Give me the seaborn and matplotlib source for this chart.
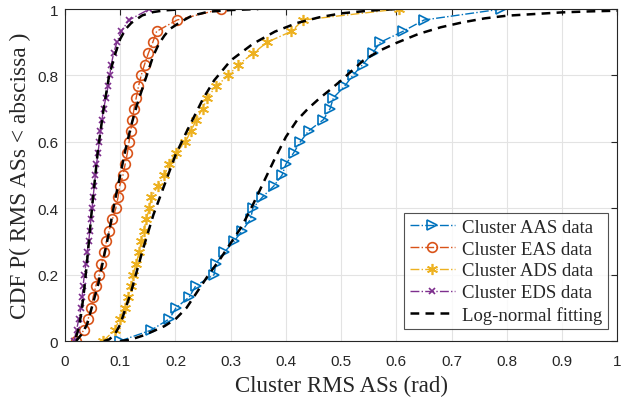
import numpy as np
import pandas as pd
import matplotlib
matplotlib.use("Agg")
import matplotlib.pyplot as plt
import seaborn as sns

# CDF levels of the measured points (31 levels, 0 .. 1)
cdf_levels = [0.0, 0.033, 0.067, 0.1, 0.133, 0.167, 0.2, 0.233, 0.267, 0.3, 0.333,
              0.367, 0.4, 0.433, 0.467, 0.5, 0.533, 0.567, 0.6, 0.633, 0.667,
              0.7, 0.733, 0.767, 0.8, 0.833, 0.867, 0.9, 0.933, 0.967, 1.0]

aas_x = [0.099, 0.156, 0.189, 0.201, 0.225, 0.237, 0.270, 0.273, 0.288, 0.306, 0.321,
         0.336, 0.340, 0.357, 0.378, 0.393, 0.400, 0.414, 0.426, 0.441, 0.468,
         0.480, 0.486, 0.506, 0.521, 0.539, 0.557, 0.571, 0.612, 0.650, 0.790]
eas_x = [0.020, 0.034, 0.042, 0.048, 0.051, 0.056, 0.062, 0.066, 0.071, 0.075, 0.080,
         0.086, 0.092, 0.096, 0.099, 0.105, 0.109, 0.113, 0.116, 0.119, 0.122,
         0.125, 0.129, 0.133, 0.138, 0.144, 0.151, 0.159, 0.166, 0.203, 0.283]
ads_x = [0.069, 0.090, 0.099, 0.108, 0.114, 0.120, 0.123, 0.129, 0.134, 0.138, 0.143,
         0.147, 0.153, 0.156, 0.168, 0.180, 0.189, 0.201, 0.218, 0.228, 0.238,
         0.249, 0.258, 0.273, 0.296, 0.314, 0.341, 0.366, 0.410, 0.431, 0.604]
eds_x = [0.016, 0.021, 0.025, 0.029, 0.031, 0.033, 0.035, 0.038, 0.040, 0.043, 0.045,
         0.047, 0.049, 0.051, 0.053, 0.055, 0.057, 0.060, 0.062, 0.064, 0.067,
         0.070, 0.074, 0.078, 0.081, 0.084, 0.088, 0.094, 0.102, 0.116, 0.153]

# log-normal fitted curves
fit_aas_x = [0.10, 0.12, 0.14, 0.16, 0.18, 0.20, 0.22, 0.24, 0.26, 0.28, 0.30, 0.32, 0.34,
             0.36, 0.38, 0.40, 0.42, 0.44, 0.46, 0.48, 0.50, 0.52, 0.54, 0.57, 0.60,
             0.64, 0.68, 0.72, 0.76, 0.80, 0.85, 0.90, 0.95, 1.0]
fit_aas_y = [0.0, 0.005, 0.016, 0.03, 0.045, 0.066, 0.10, 0.15, 0.20, 0.245, 0.295, 0.345, 0.41,
             0.48, 0.55, 0.615, 0.665, 0.70, 0.73, 0.757, 0.785, 0.815, 0.845, 0.875, 0.898,
             0.925, 0.945, 0.96, 0.972, 0.98, 0.985, 0.99, 0.993, 0.995]
fit_eas_x = [0.02, 0.03, 0.04, 0.05, 0.06, 0.07, 0.08, 0.09, 0.10, 0.11, 0.12, 0.13, 0.14,
             0.15, 0.16, 0.17, 0.18, 0.19, 0.21, 0.23, 0.26, 0.30, 0.35]
fit_eas_y = [0.0, 0.02, 0.05, 0.11, 0.17, 0.25, 0.33, 0.42, 0.50, 0.58, 0.65, 0.71, 0.76,
             0.81, 0.86, 0.895, 0.92, 0.94, 0.962, 0.98, 0.992, 0.997, 1.0]
fit_ads_x = [0.07, 0.08, 0.09, 0.10, 0.11, 0.12, 0.13, 0.14, 0.15, 0.16, 0.17, 0.18, 0.19,
             0.20, 0.22, 0.25, 0.27, 0.30, 0.34, 0.38, 0.42, 0.46, 0.50, 0.55, 0.60]
fit_ads_y = [0.0, 0.005, 0.02, 0.05, 0.10, 0.15, 0.21, 0.27, 0.325, 0.38, 0.425, 0.47, 0.515,
             0.56, 0.63, 0.73, 0.785, 0.845, 0.895, 0.932, 0.958, 0.975, 0.987, 0.995, 1.0]
fit_eds_x = [0.02, 0.025, 0.03, 0.035, 0.04, 0.045, 0.05, 0.055, 0.06, 0.07, 0.08, 0.09,
             0.10, 0.11, 0.12, 0.14, 0.16, 0.18, 0.20]
fit_eds_y = [0.012, 0.04, 0.089, 0.158, 0.24, 0.33, 0.42, 0.5, 0.58, 0.70, 0.80, 0.86,
             0.91, 0.94, 0.958, 0.981, 0.991, 0.996, 0.998]

x_tick_labels = ["0", "0.1", "0.2", "0.3", "0.4", "0.5", "0.6", "0.7", "0.8", "0.9", "1"]
y_tick_labels = ["0", "0.2", "0.4", "0.6", "0.8", "1"]

# name, data, colour, marker, marker size
series = [
    ("Cluster AAS data", aas_x, "#0072BD", ">", 7),
    ("Cluster EAS data", eas_x, "#D95319", "o", 7),
    ("Cluster ADS data", ads_x, "#EDB120", (6, 2, 0), 8),
    ("Cluster EDS data", eds_x, "#7E2F8E", "x", 5),
]
fits = [(fit_aas_x, fit_aas_y), (fit_eas_x, fit_eas_y),
        (fit_ads_x, fit_ads_y), (fit_eds_x, fit_eds_y)]

sns.set_style("white")
plt.rcParams["font.family"] = ["Liberation Sans", "DejaVu Sans"]

fig = plt.figure(figsize=(6.23, 4.02), dpi=100)
ax = fig.add_axes([0.1043, 0.149, 0.8866, 0.826])

for name, xs, col, mk, ms in series:
    df = pd.DataFrame({"x": xs, "y": cdf_levels})
    sns.lineplot(data=df, x="x", y="y", ax=ax, estimator=None, sort=False,
                 color=col, linestyle="-.", linewidth=1.0, marker=mk,
                 markersize=ms, markerfacecolor="none", markeredgecolor=col,
                 markeredgewidth=1.2, label=name)

for i, (fx, fy) in enumerate(fits):
    df = pd.DataFrame({"x": fx, "y": fy})
    sns.lineplot(data=df, x="x", y="y", ax=ax, estimator=None, sort=False,
                 color="black", linestyle=(0, (3.5, 2.5)), linewidth=1.8,
                 label="Log-normal fitting" if i == 0 else None)

ax.set_xlim(0, 1)
ax.set_ylim(0, 1)
ax.set_xticks(np.arange(0, 1.01, 0.1))
ax.set_yticks(np.arange(0, 1.01, 0.2))
ax.set_xticklabels(x_tick_labels)
ax.set_yticklabels(y_tick_labels)
ax.grid(True, color="#e3e3e3", linewidth=0.8)
ax.tick_params(direction="in", length=4, width=0.8, labelsize=11, colors="#262626",
               top=True, right=True)
ax.tick_params(axis="x", pad=9)
ax.tick_params(axis="y", pad=5)
for s in ax.spines.values():
    s.set_color("#262626")
    s.set_linewidth(0.8)

serif = ["Liberation Serif", "DejaVu Serif"]
ax.set_xlabel("Cluster RMS ASs (rad)", fontsize=16.5, family=serif, labelpad=5)
ax.set_ylabel("CDF P( RMS ASs < abscissa )", fontsize=16.8, family=serif, labelpad=4)

leg = ax.legend(loc="lower right", bbox_to_anchor=(0.983, 0.035), frameon=True,
                fancybox=False, prop={"family": serif, "size": 13.5},
                handlelength=2.4, borderpad=0.3, labelspacing=0.25, handletextpad=0.4,
                borderaxespad=0.0)
leg.get_frame().set_edgecolor("#262626")
leg.get_frame().set_linewidth(0.8)

fig.savefig("out.png", dpi=100)
